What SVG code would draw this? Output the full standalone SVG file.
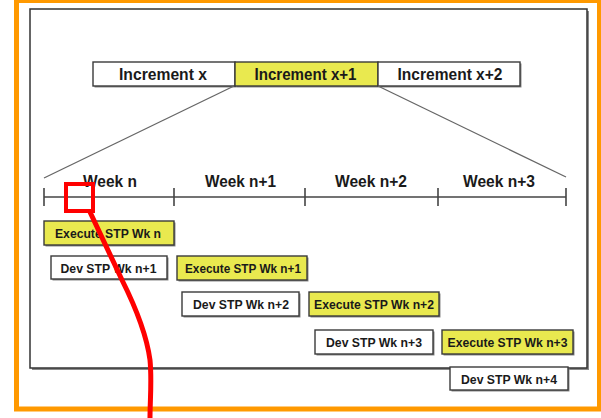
<svg xmlns="http://www.w3.org/2000/svg" width="601" height="418" viewBox="0 0 601 418">
<style>
.frame{fill:#fff;stroke:#333;stroke-width:1.5}
.shadow{fill:#8a8a8a;stroke:none}
.box{stroke:#3a3a3a;stroke-width:1.4}
.white{fill:#fff}
.yellow{fill:#e9e94f}
.lbl{font-family:"Liberation Sans",Arial,sans-serif;font-weight:bold;fill:#1a1a1a;text-anchor:middle}
.inc{font-size:17px}
.wk{font-size:17px}
.task{font-size:13px}
.conn{stroke:#666;stroke-width:1.3;fill:none}
.axis{stroke:#444;stroke-width:1.6;fill:none}
</style>
<rect x="0" y="0" width="601" height="418" fill="#fff"/>
<rect x="16.5" y="0.5" width="583" height="408.5" fill="none" stroke="#ff9900" stroke-width="5"/>
<g id="frame">
<rect class="shadow" x="32" y="11" width="557" height="359"/>
<rect class="frame" x="30" y="9" width="557" height="359"/>
</g>
<g id="increments">
<g id="inc-x">
<rect class="shadow" x="94.5" y="63.5" width="142" height="24"/>
<rect class="box white" x="93" y="62" width="142" height="24"/>
<text class="lbl inc" x="163" y="80" textLength="88" lengthAdjust="spacingAndGlyphs">Increment x</text>
</g>
<g id="inc-x1">
<rect class="shadow" x="236.5" y="63.5" width="143" height="24"/>
<rect class="box yellow" x="235" y="62" width="143" height="24"/>
<text class="lbl inc" x="305.5" y="80" textLength="102" lengthAdjust="spacingAndGlyphs">Increment x+1</text>
</g>
<g id="inc-x2">
<rect class="shadow" x="379.5" y="63.5" width="142" height="24"/>
<rect class="box white" x="378" y="62" width="142" height="24"/>
<text class="lbl inc" x="450" y="80" textLength="105" lengthAdjust="spacingAndGlyphs">Increment x+2</text>
</g>
</g>
<g id="connectors">
<line class="conn" x1="234" y1="86" x2="44" y2="178"/>
<line class="conn" x1="378" y1="86" x2="566" y2="177"/>
</g>
<g id="timeline">
<line class="axis" x1="44" y1="197" x2="566" y2="197"/>
<line class="axis" x1="44" y1="188" x2="44" y2="206"/>
<line class="axis" x1="174" y1="188" x2="174" y2="206"/>
<line class="axis" x1="305" y1="188" x2="305" y2="206"/>
<line class="axis" x1="438" y1="188" x2="438" y2="206"/>
<line class="axis" x1="566" y1="188" x2="566" y2="206"/>
<text class="lbl wk" x="110" y="187" textLength="54" lengthAdjust="spacingAndGlyphs">Week n</text>
<text class="lbl wk" x="240.5" y="187" textLength="71" lengthAdjust="spacingAndGlyphs">Week n+1</text>
<text class="lbl wk" x="371" y="187" textLength="72" lengthAdjust="spacingAndGlyphs">Week n+2</text>
<text class="lbl wk" x="499" y="187" textLength="72" lengthAdjust="spacingAndGlyphs">Week n+3</text>
</g>
<g id="exec-n">
<rect class="shadow" x="45.5" y="222.5" width="130" height="24"/>
<rect class="box yellow" x="44" y="221" width="130" height="24"/>
<text class="lbl task" x="108" y="238" textLength="106" lengthAdjust="spacingAndGlyphs">Execute STP Wk n</text>
</g>
<g id="dev-n1">
<rect class="shadow" x="52.5" y="257.5" width="116" height="23"/>
<rect class="box white" x="51" y="256" width="116" height="23"/>
<text class="lbl task" x="108.5" y="272.8" textLength="96" lengthAdjust="spacingAndGlyphs">Dev STP Wk n+1</text>
</g>
<g id="exec-n1">
<rect class="shadow" x="178.5" y="257.5" width="130" height="24"/>
<rect class="box yellow" x="177" y="256" width="130" height="24"/>
<text class="lbl task" x="243" y="273.3" textLength="116" lengthAdjust="spacingAndGlyphs">Execute STP Wk n+1</text>
</g>
<g id="dev-n2">
<rect class="shadow" x="183.5" y="293.5" width="117" height="24"/>
<rect class="box white" x="182" y="292" width="117" height="24"/>
<text class="lbl task" x="241" y="309.3" textLength="96" lengthAdjust="spacingAndGlyphs">Dev STP Wk n+2</text>
</g>
<g id="exec-n2">
<rect class="shadow" x="310.5" y="293.5" width="130" height="24"/>
<rect class="box yellow" x="309" y="292" width="130" height="24"/>
<text class="lbl task" x="374" y="309.3" textLength="120" lengthAdjust="spacingAndGlyphs">Execute STP Wk n+2</text>
</g>
<g id="dev-n3">
<rect class="shadow" x="316.5" y="331.5" width="118" height="24"/>
<rect class="box white" x="315" y="330" width="118" height="24"/>
<text class="lbl task" x="374" y="347.3" textLength="96" lengthAdjust="spacingAndGlyphs">Dev STP Wk n+3</text>
</g>
<g id="exec-n3">
<rect class="shadow" x="443.5" y="331.5" width="131" height="24"/>
<rect class="box yellow" x="442" y="330" width="131" height="24"/>
<text class="lbl task" x="507.5" y="347.3" textLength="120" lengthAdjust="spacingAndGlyphs">Execute STP Wk n+3</text>
</g>
<g id="dev-n4">
<rect class="shadow" x="451.5" y="368.5" width="118" height="23"/>
<rect class="box white" x="450" y="367" width="118" height="23"/>
<text class="lbl task" x="509" y="383.8" textLength="96" lengthAdjust="spacingAndGlyphs">Dev STP Wk n+4</text>
</g>
<g id="highlight">
<rect x="66" y="184" width="27" height="27" fill="none" stroke="#ff0000" stroke-width="4"/>
<path d="M 90 212 L 122 280 C 132 300 146 330 150 360 C 152 380 150 400 150 418" fill="none" stroke="#ff0000" stroke-width="5"/>
</g>
</svg>
